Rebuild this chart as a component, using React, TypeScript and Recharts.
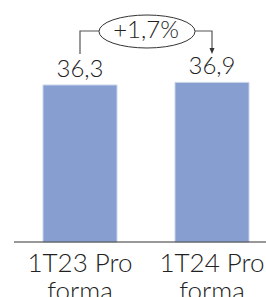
import { BarChart, Bar, XAxis, YAxis, LabelList } from "recharts";

const categories = ["1T23 Pro forma", "1T24 Pro forma"];
const values = [36.3, 36.9];
const valueLabels = ["36,3", "36,9"];
const changeLabel = "+1,7%";

const data = categories.map((name, i) => ({
	name,
	value: values[i],
	label: valueLabels[i],
}));

const W = 280;
const H = 297;
const margin = { top: 69, right: 2, left: 14, bottom: 0 };
const FONT = "Lato, 'DejaVu Sans', sans-serif";
const INK = "#222";

const CategoryTick = (props: any) => {
	const { x, y, payload } = props;
	const words = String(payload.value).split(" ");
	const line1 = words.slice(0, 2).join(" ");
	const line2 = words.slice(2).join(" ");
	return (
		<text
			x={x}
			y={y}
			textAnchor='middle'
			fontFamily={FONT}
			fontWeight={300}
			fontSize={26}
			fill={INK}>
			<tspan x={x} dy={22}>
				{line1}
			</tspan>
			<tspan x={x} dy={28}>
				{line2}
			</tspan>
		</text>
	);
};

// bracket with the change, placed over the centres of the two bars
const Annotation = () => {
	const band = (W - margin.left - margin.right) / categories.length;
	const x0 = margin.left + band * 0.5;
	const x1 = margin.left + band * 1.5;
	const cx = (x0 + x1) / 2 + 1;
	const cy = 31.5;
	const rx = 48;
	const ry = 16.5;
	const yLine = 31;
	return (
		<svg
			width={W}
			height={H}
			style={{ position: "absolute", left: 0, top: 0, pointerEvents: "none" }}>
			<polyline
				points={`${x0},54 ${x0},${yLine} ${cx - rx},${yLine}`}
				fill='none'
				stroke='#555'
				strokeWidth={1.2}
			/>
			<polyline
				points={`${cx + rx},${yLine} ${x1},${yLine} ${x1},49`}
				fill='none'
				stroke='#555'
				strokeWidth={1.2}
			/>
			<polygon
				points={`${x1 - 2.5},48 ${x1 + 2.5},48 ${x1},54`}
				fill='#333'
			/>
			<ellipse
				cx={cx}
				cy={cy}
				rx={rx}
				ry={ry}
				fill='#fff'
				stroke='#333'
				strokeWidth={1}
			/>
			<text
				x={cx - 1}
				y={38}
				textAnchor='middle'
				fontFamily={FONT}
				fontWeight={300}
				fontSize={24}
				fill={INK}>
				{changeLabel}
			</text>
		</svg>
	);
};

export default function App() {
	return (
		<div
			style={{
				position: "absolute",
				left: 0,
				top: 0,
				width: 266,
				height: H,
				overflow: "hidden",
				background: "#fff",
			}}>
			<BarChart
				width={W}
				height={H}
				data={data}
				margin={margin}
				barCategoryGap={29}>
				<XAxis
					dataKey='name'
					axisLine={{ stroke: "#333", strokeWidth: 1 }}
					tickLine={false}
					height={55}
					interval={0}
					tick={<CategoryTick />}
				/>
				<YAxis hide domain={[0, 40]} />
				<Bar
					dataKey='value'
					fill='#869ED0'
					stroke='#C9D3EC'
					strokeWidth={1}
					isAnimationActive={false}>
					<LabelList
						dataKey='label'
						position='top'
						offset={8}
						fontFamily={FONT}
						fontWeight={300}
						fontSize={24}
						fill={INK}
					/>
				</Bar>
			</BarChart>
			<Annotation />
		</div>
	);
}
